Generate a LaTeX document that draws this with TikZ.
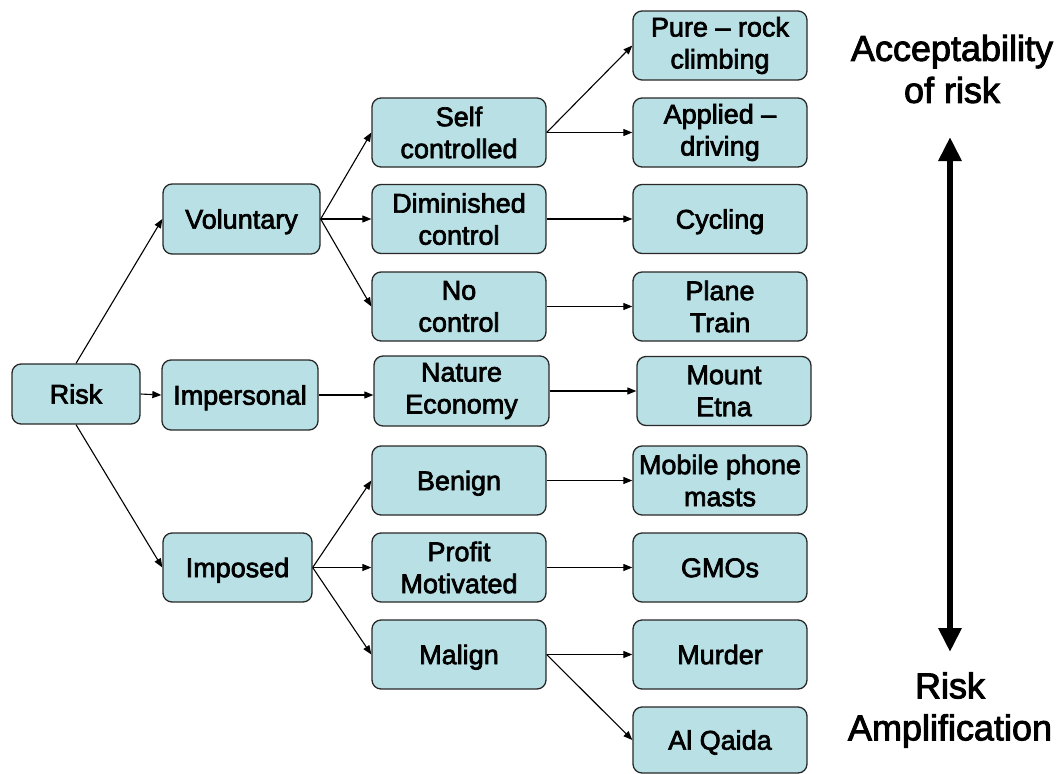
\documentclass[tikz,border=0pt]{standalone}
\usepackage{fontspec}
\setmainfont{Liberation Sans}[FakeBold=2.5]
\usetikzlibrary{arrows.meta}
\definecolor{boxfill}{RGB}{185,224,228}
\definecolor{boxline}{RGB}{40,40,40}
\begin{document}
\begin{tikzpicture}[x=1pt,y=-1pt,
  box/.style={draw=boxline, line width=1.3pt, fill=boxfill, rounded corners=9pt,
    align=center, inner sep=0pt, font=\fontsize{27}{32}\selectfont},
  oneline/.style={text height=19.3pt, text depth=0pt},
  col3/.style={box, minimum width=174pt, minimum height=69pt},
  col4/.style={box, minimum width=174pt, minimum height=69pt},
  link/.style={draw=black, line width=1.1pt, -{Triangle[length=9pt,width=7pt]}},
  side/.style={align=center, font=\fontsize{36}{42}\selectfont}
]
\useasboundingbox (0,0) rectangle (1058,774);

% first level
\node[box, oneline, minimum width=128pt, minimum height=60pt] (risk) at (76,394) {Risk};
\node[box, oneline, minimum width=157pt, minimum height=70pt] (vol) at (241.5,219) {Voluntary};
\node[box, oneline, minimum width=156pt, minimum height=70pt] (imp) at (240,395) {Impersonal};
\node[box, oneline, minimum width=149pt, minimum height=69pt] (ims) at (237.5,567.5) {Imposed};

% second level
\node[col3] (self) at (459,132.5) {Self\\controlled};
\node[col3] (dim) at (459,219) {Diminished\\control};
\node[col3] (noc) at (459,306.5) {No\\control};
\node[col3, minimum width=175pt, minimum height=70pt] (nat) at (461.5,391) {Nature\\Economy};
\node[col3, oneline] (ben) at (459,480.5) {Benign};
\node[col3] (pro) at (459,567.5) {Profit\\Motivated};
\node[col3, oneline] (mal) at (459,654.5) {Malign};

% examples
\node[col4] (pure) at (720,45.5) {Pure – rock\\climbing};
\node[col4] (appl) at (720,132.5) {Applied –\\driving};
\node[col4, oneline] (cyc) at (720,219) {Cycling};
\node[col4] (pla) at (720,306.5) {Plane\\Train};
\node[col4] (etna) at (724,391) {Mount\\Etna};
\node[col4] (mob) at (720,480.5) {Mobile phone\\masts};
\node[col4, oneline] (gmo) at (720,567.5) {GMOs};
\node[col4, oneline] (mur) at (720,654.5) {Murder};
\node[col4, oneline, minimum height=66pt] (alq) at (720,740) {Al Qaida};

% connectors
\draw[link] (risk.north) -- (vol.west);
\draw[link] (risk.east) -- (imp.west);
\draw[link] (risk.south) -- (ims.west);

\draw[link] (vol.east) -- (self.west);
\draw[link] (vol.east) -- (dim.west);
\draw[link] (vol.east) -- (noc.west);
\draw[link] (imp.east) -- (imp.east -| nat.west);
\draw[link] (ims.east) -- (ben.west);
\draw[link] (ims.east) -- (pro.west);
\draw[link] (ims.east) -- (mal.west);

\draw[link] (self.east) -- (pure.west);
\draw[link] (self.east) -- (appl.west);
\draw[link] (dim.east) -- (cyc.west);
\draw[link] (noc.east) -- (pla.west);
\draw[link] (nat.east) -- (etna.west);
\draw[link] (ben.east) -- (mob.west);
\draw[link] (pro.east) -- (gmo.west);
\draw[link] (mal.east) -- (mur.west);
\draw[link] (mal.east) -- (alq.west);

% scale on the right
\node[side] (acc) at (952,69) {Acceptability\\of risk};
\node[side] (amp) at (950,710) {Risk\\Amplification};
\coordinate (top) at (950,137);
\coordinate (bot) at (950,652);
\draw[line width=6pt, {Triangle[length=24pt,width=22pt]}-{Triangle[length=24pt,width=22pt]}] (top) -- (bot);
\end{tikzpicture}
\end{document}
